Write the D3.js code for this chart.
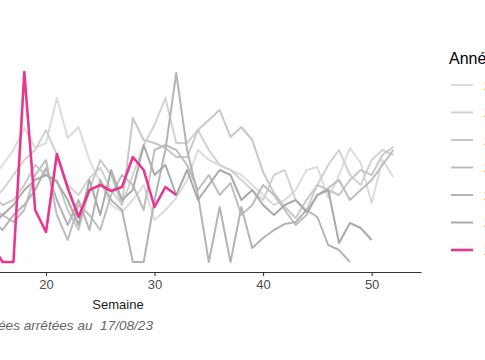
<!DOCTYPE html>
<meta charset="utf-8">
<style>
body { margin: 0; background: #fff; }
svg { display: block; }
text { font-family: "Liberation Sans", Arial, sans-serif; }
</style>
<body>
<svg id="chart" width="485" height="360"></svg>
<script src="https://cdn.jsdelivr.net/npm/d3@7"></script>
<script>

// weeks shown in the frame (earlier weeks fall outside the picture)
var weeks = d3.range(15, 53);

var years = ["2017", "2018", "2019", "2020", "2021", "2022", "2023"];
var colors = ["#dcdcdc", "#d2d2d2", "#c8c8c8", "#bebebe", "#b4b4b4", "#aaaaaa", "#e8378f"];

var y2017 = [8.4, 9.7, 11.2, 13.4, 11.4, 11.9, 16.4, 12.4, 13.5, 10.2, 8.0, 5.7, 5.0, 6.2, 7.7, 4.2, 5.2, 6.4, 8.2, 11.2,
             10.2, 9.7, 9.2, 8.7, 7.7, 6.7, 5.7, 6.2, 7.2, 9.2, 9.5, 6.4, 8.7, 11.4, 9.9, 5.9, 10.2, 8.5];
var y2018 = [6.2, 7.2, 8.7, 10.2, 11.2, 13.2, 10.7, 7.7, 6.7, 8.4, 9.4, 7.2, 5.7, 8.7, 11.7, 13.7, 16.4, 11.9, 11.9, 13.2,
             11.2, 9.7, 9.2, 8.2, 7.2, 6.2, 8.7, 9.2, 6.2, 5.2, 7.7, 9.7, 11.2, 8.7, 7.7, 10.2, 11.2, 10.7];
var y2019 = [6.7, 5.7, 6.2, 7.7, 9.7, 8.7, 8.2, 5.2, 3.2, 7.2, 10.2, 8.7, 5.7, 14.4, 12.2, 11.9, 11.4, 10.5, 10.5, 13.2,
             14.2, 15.2, 12.5, 13.5, 12.2, 9.0, 6.9, 5.5, 4.4, 6.2, 7.7, 7.2, 6.7, 8.2, 9.2, 8.7, 10.7, 11.5];
var y2020 = [5.2, 4.7, 4.0, 5.2, 8.7, 10.2, 4.7, 2.2, 5.7, 4.7, 3.2, 6.7, 8.7, 7.7, 5.2, 11.2, 11.7, 11.2, 9.7, 7.2,
             8.7, 6.7, 7.9, 4.7, 5.7, 7.7, 6.7, 5.2, 3.7, 4.7, 6.7, 7.4, 8.2, 6.2, 7.2, 8.2, 9.7, 11.2];
var y2021 = [4.2, 3.2, 4.7, 5.7, 7.2, 9.4, 6.2, 3.7, 6.2, 3.2, 8.2, 6.2, 5.2, 0, 0, 6.2, 11.2, 18.9, 11.2, 6.7,
             0, 5.5, 0, 5.5, 1.4, 2.4, 3.2, 3.8, 4.0, 5.2, 4.5, 1.7, 1.2, 0];
var y2022 = [3.7, 4.7, 5.7, 7.2, 8.2, 8.7, 8.0, 6.2, 3.7, 8.2, 4.7, 9.2, 6.2, 7.2, 11.7, 8.7, 9.7, 6.7, 9.2, 6.2,
             7.7, 9.2, 8.7, 6.2, 7.2, 5.7, 4.7, 5.7, 6.2, 5.0, 6.7, 7.2, 1.9, 3.9, 3.4, 2.2];
var y2023 = [1.7, 0, 0, 19.0, 5.2, 3.0, 10.8, 7.4, 4.5, 7.2, 7.7, 7.1, 7.5, 10.5, 9.2, 5.5, 7.5, 6.7];

var xTicks = [10, 20, 30, 40, 50];

var seriesValues = [y2017, y2018, y2019, y2020, y2021, y2022, y2023];

var svg = d3.select("#chart");

var x = d3.scaleLinear().domain([-1.55, 54.55]).range([-187.9, 421]);
var y = d3.scaleLinear().domain([0, 19]).range([262, 72]);

var line = d3.line()
    .x(function(d) { return x(d.week); })
    .y(function(d) { return y(d.value); });

var series = seriesValues.map(function(vals, i) {
  return {
    year: years[i],
    color: colors[i],
    values: vals.map(function(v, j) { return { week: weeks[j], value: v }; })
  };
});

svg.append("g")
  .selectAll("path")
  .data(series)
  .enter().append("path")
    .attr("d", function(d) { return line(d.values); })
    .attr("fill", "none")
    .attr("stroke", function(d) { return d.color; })
    .attr("stroke-width", function(d, i) { return i == 6 ? 2.6 : 2; })
    .attr("stroke-linejoin", "round");

// x axis
var xAxis = svg.append("g")
    .attr("transform", "translate(0,272)")
    .call(d3.axisBottom(x).tickValues(xTicks).tickSize(4).tickSizeOuter(0));
xAxis.select(".domain").attr("stroke", "#333").attr("stroke-width", 1.1);
xAxis.selectAll(".tick line").attr("stroke", "#333").attr("stroke-width", 1.1);
xAxis.selectAll(".tick text")
    .attr("fill", "#4d4d4d")
    .attr("y", 8)
    .style("font-size", "13px")
    .style("font-family", "Liberation Sans, Arial, sans-serif");

svg.append("text")
    .attr("x", 118)
    .attr("y", 309)
    .attr("text-anchor", "middle")
    .style("font-size", "13px")
    .attr("fill", "#1a1a1a")
    .text("Semaine");

svg.append("text")
    .attr("x", 153)
    .attr("y", 330)
    .attr("text-anchor", "end")
    .style("font-size", "13.6px")
    .style("font-style", "italic")
    .style("white-space", "pre")
    .attr("fill", "#666")
    .text("Données arrêtées au  17/08/23");

// legend
var legend = svg.append("g");
legend.append("text")
    .attr("x", 449)
    .attr("y", 64)
    .style("font-size", "16px")
    .attr("fill", "#000")
    .text("Année");

var item = legend.selectAll("g.item")
  .data(series)
  .enter().append("g")
    .attr("class", "item")
    .attr("transform", function(d, i) { return "translate(0," + (85 + i * 27.5) + ")"; });

item.append("line")
    .attr("x1", 451).attr("x2", 473)
    .attr("stroke", function(d) { return d.color; })
    .attr("stroke-width", function(d, i) { return i == 6 ? 2.6 : 2; });

item.append("text")
    .attr("x", 484)
    .attr("y", 4.5)
    .style("font-size", "13px")
    .attr("fill", "#1a1a1a")
    .text(function(d) { return d.year; });

</script>
</body>
